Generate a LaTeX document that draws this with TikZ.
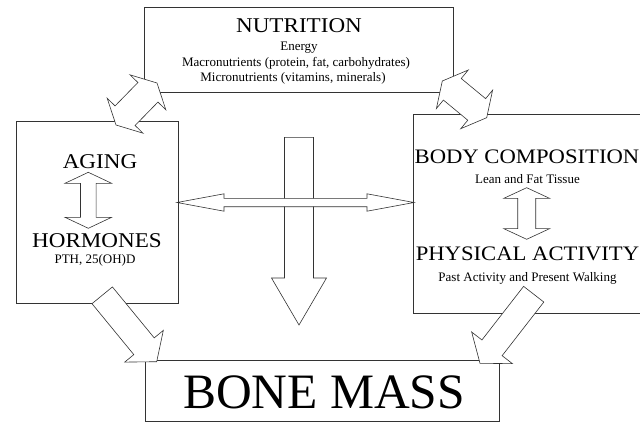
\documentclass[tikz,border=0pt]{standalone}
\usepackage{fontspec}
\setmainfont{Liberation Serif}
\newfontfamily\titlefont{Liberation Serif}[FakeStretch=1.1]
\usetikzlibrary{calc}

\newcommand{\fatarrow}[5]{%
  \coordinate (hd) at ($(#2)!#5!(#1)$);
  \draw[fat] ($(#1)!#3!90:(#2)$) -- ($(hd)!#3!90:(#2)$) -- ($(hd)!#4!90:(#2)$) -- (#2)
    -- ($(hd)!#4!-90:(#2)$) -- ($(hd)!#3!-90:(#2)$) -- ($(#1)!#3!-90:(#2)$) -- cycle;}
\newcommand{\fatdarrow}[5]{%
  \coordinate (ha) at ($(#1)!#5!(#2)$);
  \coordinate (hb) at ($(#2)!#5!(#1)$);
  \draw[fat] (#1) -- ($(ha)!#4!90:(#2)$) -- ($(ha)!#3!90:(#2)$) -- ($(hb)!#3!90:(#2)$)
    -- ($(hb)!#4!90:(#2)$) -- (#2) -- ($(hb)!#4!-90:(#2)$) -- ($(hb)!#3!-90:(#2)$)
    -- ($(ha)!#3!-90:(#2)$) -- ($(ha)!#4!-90:(#2)$) -- cycle;}

\begin{document}
\begin{tikzpicture}[x=1pt,y=-1pt,
  panel/.style={draw=black!80,line width=0.6pt},
  fat/.style={draw=black!80,fill=white,line width=0.6pt,line join=miter},
  big/.style={anchor=base,font=\titlefont\fontsize{21}{25}\selectfont},
  wide/.style={anchor=base,font=\titlefont\fontsize{20.6}{24}\selectfont},
  small/.style={anchor=base,font=\fontsize{13}{15}\selectfont}]
\useasboundingbox (0,0) rectangle (640,423);
\clip (0,0) rectangle (640,423);

\node[panel,minimum width=309.5pt,minimum height=85pt] (nutr) at (298.75,49.5) {};
\node[panel,minimum width=161.7pt,minimum height=182pt] (aging) at (97.15,212) {};
\node[panel,minimum width=231.7pt,minimum height=198.5pt] (body) at (529.15,213.75) {};
\node[panel,minimum width=354pt,minimum height=61.5pt] (bone) at (322,390.75) {};

\coordinate (midtop) at (299,137.3);
\coordinate (midtip) at (299,325);
\coordinate (ageright) at (177,202.5);
\coordinate (bodyleft) at (414,202.5);
\coordinate (agetop) at (116,125);
\coordinate (nutrleft) at (157,83);
\coordinate (nutrright) at (442.3,81);
\coordinate (bodytop) at (486.7,117.7);
\coordinate (ageout) at (102.2,295.3);
\coordinate (bonel) at (156.7,361.7);
\coordinate (bodyout) at (533.7,294.2);
\coordinate (boner) at (480,363.3);
\coordinate (agea) at (88.3,172.3);
\coordinate (ageb) at (88.3,228.3);
\coordinate (bodya) at (526.7,187.7);
\coordinate (bodyb) at (526.7,239.3);

\fatarrow{midtop}{midtip}{14.5pt}{27.5pt}{47pt}
\fatdarrow{ageright}{bodyleft}{4.2pt}{8.7pt}{47pt}
\fatdarrow{agetop}{nutrleft}{14pt}{25pt}{13pt}
\fatdarrow{nutrright}{bodytop}{14pt}{25pt}{13pt}
\fatarrow{ageout}{bonel}{13.2pt}{25pt}{20pt}
\fatarrow{bodyout}{boner}{12.8pt}{25.8pt}{19.6pt}
\fatdarrow{agea}{ageb}{7.8pt}{23.3pt}{11pt}
\fatdarrow{bodya}{bodyb}{9pt}{23pt}{10.7pt}

\node[big] (nutrtitle) at (299,32.7) {NUTRITION};
\node[small] (energy) at (299,50.7) {Energy};
\node[small] (macro) at (296,66.7) {Macronutrients (protein, fat, carbohydrates)};
\node[small] (micro) at (293,81.7) {Micronutrients (vitamins, minerals)};
\node[big] (agetitle) at (100,168.3) {AGING};
\node[big] (hormtitle) at (97,247) {HORMONES};
\node[small] (hormlist) at (95,263.5) {PTH, 25(OH)D};
\node[wide] (bodytitle) at (527,163.3) {BODY COMPOSITION};
\node[small] (bodylist) at (527.5,183.3) {Lean and Fat Tissue};
\node[wide] (acttitle) at (527.5,260.7) {PHYSICAL ACTIVITY};
\node[small] (actlist) at (527.5,281) {Past Activity and Present Walking};
\node[anchor=base,font=\fontsize{49.5}{56}\selectfont] (bonetitle) at (324,408.3) {BONE MASS};
\end{tikzpicture}
\end{document}
